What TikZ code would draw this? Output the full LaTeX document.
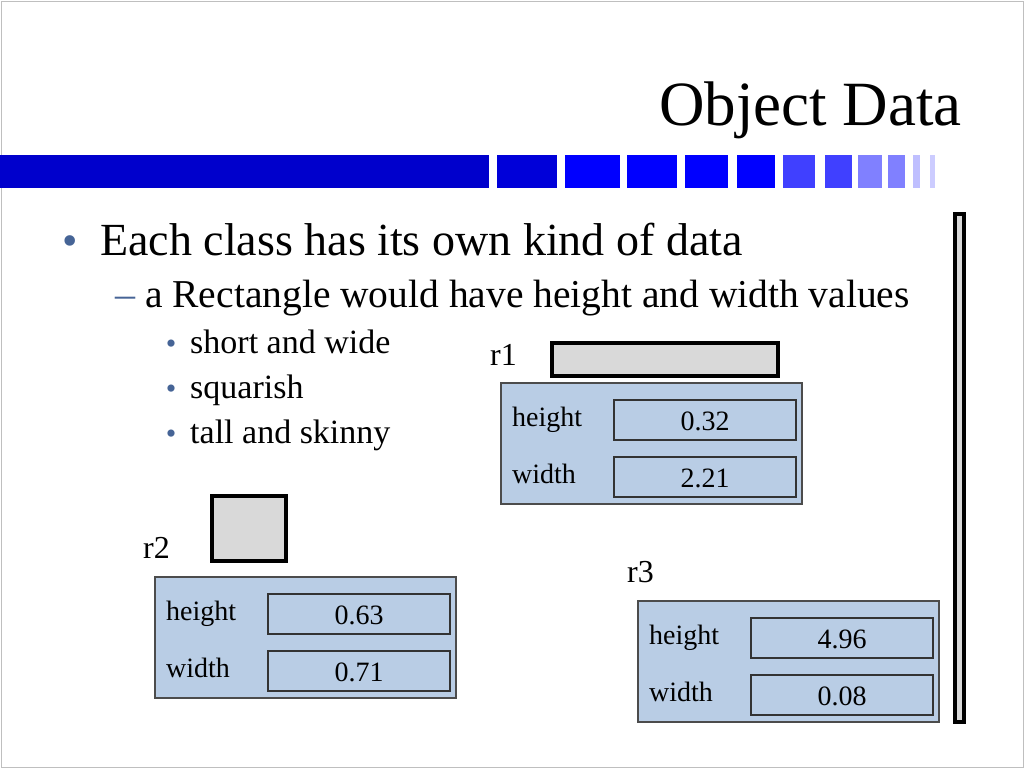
\documentclass[tikz,border=0pt]{standalone}
\usepackage{fontspec}
\setmainfont{Liberation Serif}
\usepackage{tikz}
\usetikzlibrary{positioning}
\definecolor{boxblue}{RGB}{185,205,229}
\definecolor{shapegray}{RGB}{217,217,217}
\definecolor{bulletblue}{RGB}{70,100,150}

\begin{document}
\begin{tikzpicture}[x=1pt, y=-1pt,
  every node/.style={inner sep=0pt},
  data box/.style={draw=black!70, fill=boxblue, line width=1.2pt},
  value box/.style={draw=black!80, fill=boxblue, line width=1.5pt},
  shape box/.style={draw=black, fill=shapegray, line width=4pt},
  lbl/.style={anchor=base west, font=\fontsize{28}{30}\selectfont}]

\useasboundingbox (0,0) rectangle (1024,768);
\draw [black!25] (1,1) rectangle (1023,767);

% title and bar
\node [anchor=base east, font=\fontsize{63}{66}\selectfont] (title) at (962,125) {Object Data};
\fill [blue!80!black] (0,155) rectangle (489,188);
\foreach \a/\b/\c in {497/557/blue!85!black, 565/620/blue, 627/677/blue, 685/728/blue,
    737/775/blue, 783/815/blue!75, 825/852/blue!75, 858/882/blue!50, 888/905/blue!50,
    913/920/blue!25, 930/935/blue!20}
  \fill [\c] (\a,155) rectangle (\b,188);

% right bar
\draw [fill=shapegray, line width=3.5pt] (955,214) rectangle (964,722);

% bullets
\node [anchor=base, text=bulletblue, font=\fontsize{44}{46}\selectfont] (b1) at (70,255) {\textbullet};
\node [anchor=base west, font=\fontsize{46}{48}\selectfont] (t1) at (100,255) {Each class has its own kind of data};
\node [anchor=base, text=bulletblue, font=\fontsize{40}{42}\selectfont] (b2) at (125,307) {--};
\node [anchor=base west, font=\fontsize{39.5}{42}\selectfont] (t2) at (145,307) {a Rectangle would have height and width values};
\foreach \t [count=\i] in {short and wide, squarish, tall and skinny}
{
  \node [anchor=base, text=bulletblue, font=\fontsize{30}{32}\selectfont] (sb-\i) at (171,308+\i*45) {\textbullet};
  \node [anchor=base west, font=\fontsize{34}{36}\selectfont] (st-\i) at (190,308+\i*45) {\t};
}

% shapes
\draw [shape box] (552,343) rectangle (778,376);
\draw [shape box] (212,496) rectangle (286,561);

% objects
\foreach \n/\x/\y/\lx/\ly/\h/\w in {r1/501/383/490/365/0.32/2.21,
    r2/155/577/143/558/0.63/0.71, r3/638/601/627/582/4.96/0.08}
{
  \node [anchor=base west, font=\fontsize{32}{34}\selectfont] (name-\n) at (\lx,\ly) {\n};
  \draw [data box] (\x,\y) rectangle ++(301,121);
  \draw [value box] (\x+113,\y+17) rectangle ++(182,40);
  \draw [value box] (\x+113,\y+74) rectangle ++(182,40);
  \node [lbl] (hl-\n) at (\x+11,\y+43) {height};
  \node [lbl] (wl-\n) at (\x+11,\y+100) {width};
  \node [lbl, anchor=base] (hv-\n) at (\x+204,\y+47) {\h};
  \node [lbl, anchor=base] (wv-\n) at (\x+204,\y+104) {\w};
}
\end{tikzpicture}
\end{document}
